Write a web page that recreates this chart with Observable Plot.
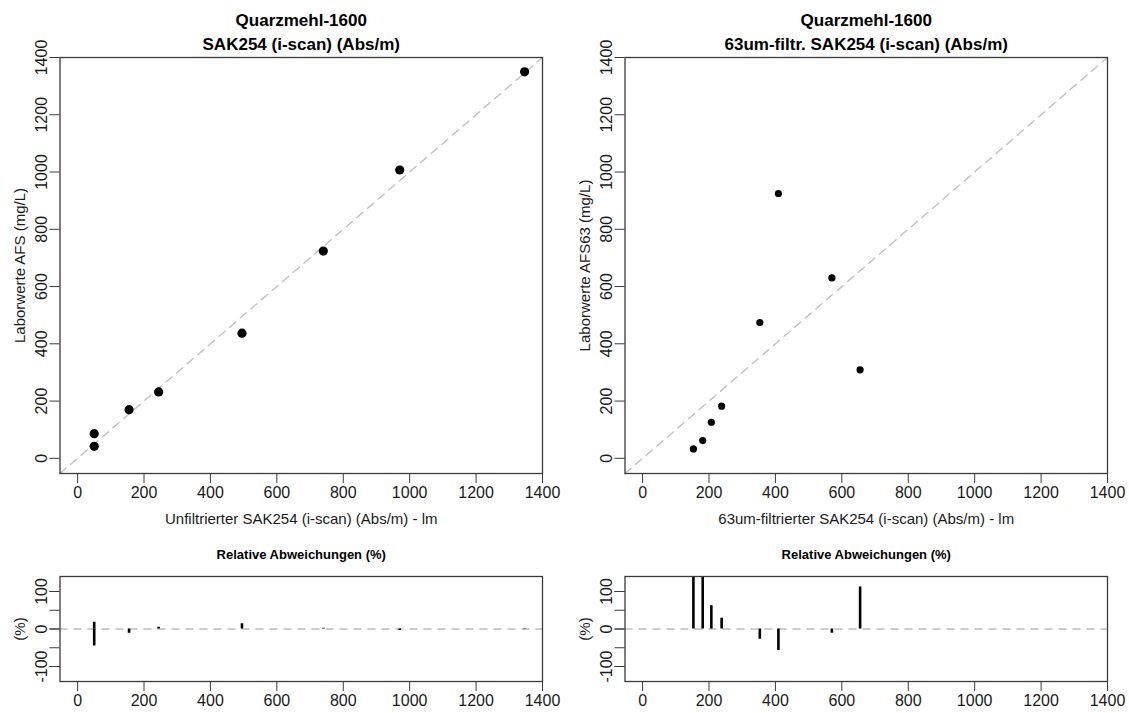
<!DOCTYPE html>
<html><head><meta charset="utf-8">
<script src="https://cdn.jsdelivr.net/npm/d3@7"></script>
<script src="https://cdn.jsdelivr.net/npm/@observablehq/plot@0.6"></script>
<style>
body{margin:0;background:#fff;}
#wrap{position:relative;width:1129px;height:713px;overflow:hidden;background:#fff;}
#wrap svg{position:absolute;overflow:visible;}
</style></head><body><div id="wrap"></div>
<script>
// ---- data ----
const mainTitle = "Quarzmehl-1600";
const leftSubtitle = "SAK254 (i-scan) (Abs/m)";
const rightSubtitle = "63um-filtr. SAK254 (i-scan) (Abs/m)";
const leftXLabel = "Unfiltrierter SAK254 (i-scan) (Abs/m) - lm";
const rightXLabel = "63um-filtrierter SAK254 (i-scan) (Abs/m) - lm";
const leftYLabel = "Laborwerte AFS (mg/L)";
const rightYLabel = "Laborwerte AFS63 (mg/L)";
const devTitle = "Relative Abweichungen (%)";
const devYLabel = "(%)";

const leftX = [50, 50, 155, 244, 495, 740, 970, 1346];
const leftY = [86, 42, 170, 232, 437, 724, 1007, 1350];
const leftDev = [-45, 18, -11, 5, 14, 2, -4, -1];

const rightX = [153, 181, 207, 238, 353, 409, 570, 655];
const rightY = [33, 62, 126, 182, 474, 925, 630, 309];
const rightDev = [364, 192, 62, 29, -27, -57, -11, 112];

const mainTicks = [0, 200, 400, 600, 800, 1000, 1200, 1400];
const devTicks = [-100, -50, 0, 50, 100];
const devTickLabels = [-100, 0, 100];
const mainDomain = [-53, 1400];
const devDomain = [-140, 140];

// ---- drawing ----
const FONT = "'Liberation Sans', Arial, Helvetica, sans-serif";
const INK = "#1a1a1a";
const BOX = "#3a3a3a";
const DASH = "#bdbdbd";
const TICKFS = 16;
const LABFS = 15;
const wrap = document.getElementById("wrap");

function place(svg, left, top) {
  svg.style.left = left + "px";
  svg.style.top = top + "px";
  wrap.appendChild(svg);
}

function scatter(xs, ys, sub, xl, yl, r) {
  const pts = xs.map((x, i) => ({x, y: ys[i]}));
  const diag = mainDomain.map(v => ({v}));
  return Plot.plot({
    width: 565, height: 535,
    marginLeft: 59.5, marginRight: 23, marginTop: 57, marginBottom: 62,
    style: {fontFamily: FONT, fontSize: TICKFS + "px", color: INK, background: "transparent"},
    x: {domain: mainDomain},
    y: {domain: mainDomain},
    marks: [
      Plot.line(diag, {x: "v", y: "v", stroke: DASH, strokeWidth: 1.3, strokeDasharray: "8,6"}),
      Plot.dot(pts, {x: "x", y: "y", r: r, fill: "#000", stroke: null}),
      Plot.frame({stroke: BOX, strokeWidth: 1.3}),
      Plot.axisX({ticks: mainTicks, tickSize: 10, tickPadding: 3, tickFormat: d => String(d), label: null, stroke: BOX, fill: INK, fontSize: TICKFS}),
      Plot.axisY({ticks: mainTicks, tickSize: 10, tickPadding: 3, tickRotate: -90, tickFormat: d => String(d), label: null, stroke: BOX, fill: INK, fontSize: TICKFS}),
      Plot.text([mainTitle], {text: d => d, frameAnchor: "top", lineAnchor: "middle", dy: -37, fontWeight: "bold", fontSize: 17, fill: "#000"}),
      Plot.text([sub], {text: d => d, frameAnchor: "top", lineAnchor: "middle", dy: -13, fontWeight: "bold", fontSize: 17, fill: "#000"}),
      Plot.text([xl], {text: d => d, frameAnchor: "bottom", lineAnchor: "middle", dy: 46, fontSize: LABFS, fill: INK}),
      Plot.text([yl], {text: d => d, frameAnchor: "left", textAnchor: "middle", lineAnchor: "middle", dx: -40, rotate: -90, fontSize: LABFS, fill: INK})
    ]
  });
}

function deviations(xs, devs) {
  const bars = xs.map((x, i) => ({x, d: devs[i]}));
  return Plot.plot({
    width: 565, height: 178,
    marginLeft: 59.5, marginRight: 23, marginTop: 41, marginBottom: 32,
    style: {fontFamily: FONT, fontSize: TICKFS + "px", color: INK, background: "transparent"},
    x: {domain: mainDomain},
    y: {domain: devDomain},
    marks: [
      Plot.ruleY([0], {stroke: DASH, strokeWidth: 1.3, strokeDasharray: "8,6"}),
      Plot.ruleX(bars, {x: "x", y1: 0, y2: "d", stroke: "#000", strokeWidth: 2.6, clip: true}),
      Plot.frame({stroke: BOX, strokeWidth: 1.3}),
      Plot.axisX({ticks: mainTicks, tickSize: 10, tickPadding: 3, tickFormat: d => String(d), label: null, stroke: BOX, fill: INK, fontSize: TICKFS}),
      Plot.axisY({ticks: devTicks, tickSize: 10, text: null, label: null, stroke: BOX}),
      Plot.axisY({ticks: devTickLabels, tickSize: 10, tickPadding: 3, tickRotate: -90, tickFormat: d => String(d), label: null, stroke: BOX, fill: INK, fontSize: TICKFS}),
      Plot.text([devTitle], {text: d => d, frameAnchor: "top", lineAnchor: "middle", dy: -22, fontWeight: "bold", fontSize: 13, fill: "#000"}),
      Plot.text([devYLabel], {text: d => d, frameAnchor: "left", textAnchor: "middle", lineAnchor: "middle", dx: -40, rotate: -90, fontSize: LABFS, fill: INK})
    ]
  });
}

place(scatter(leftX, leftY, leftSubtitle, leftXLabel, leftYLabel, 4.6), 0, 0);
place(scatter(rightX, rightY, rightSubtitle, rightXLabel, rightYLabel, 3.6), 565, 0);
place(deviations(leftX, leftDev), 0, 535);
place(deviations(rightX, rightDev), 565, 535);
</script>
</body></html>
